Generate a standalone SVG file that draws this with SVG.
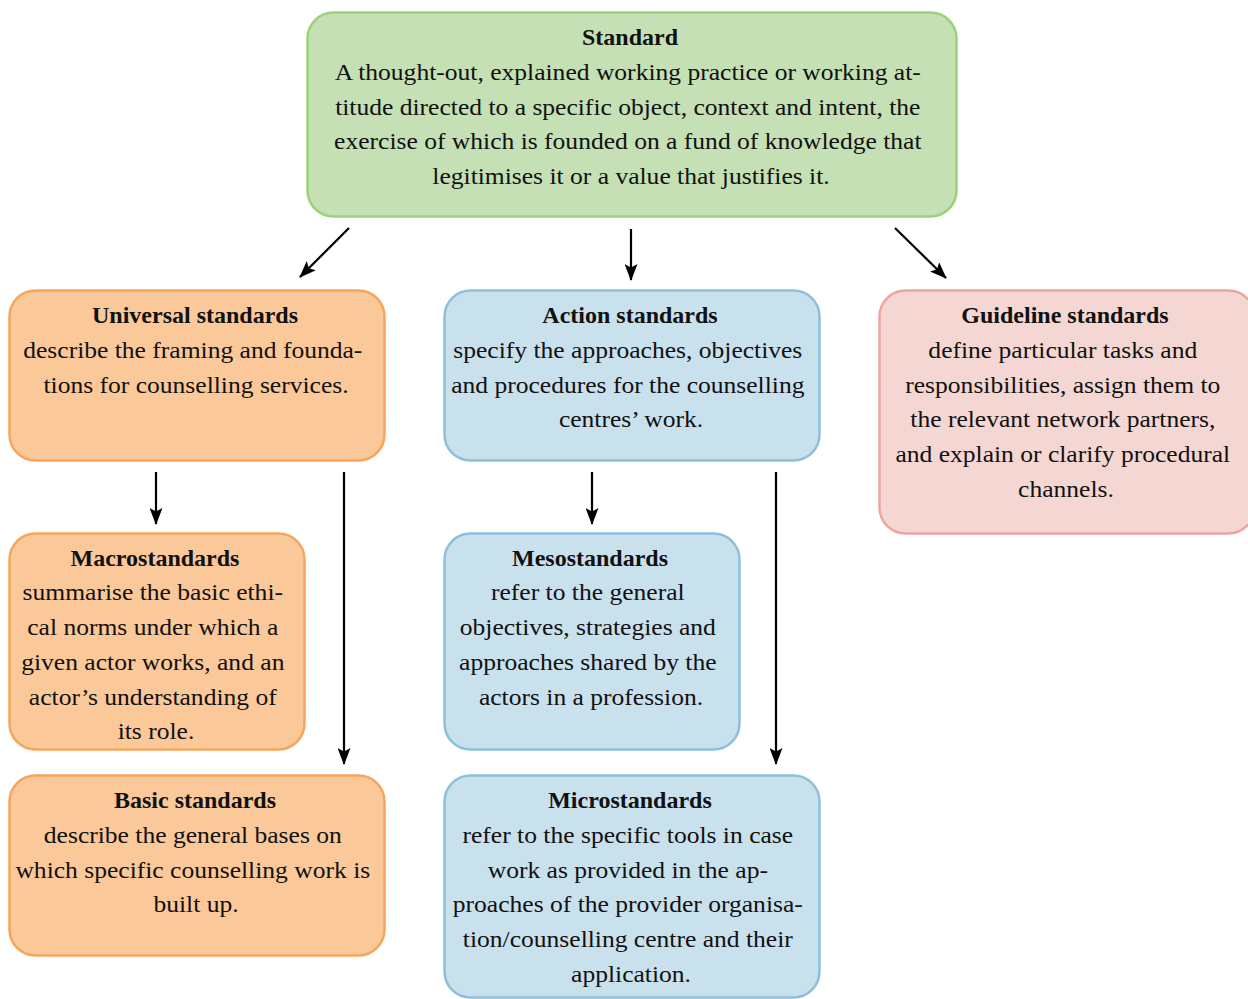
<svg xmlns="http://www.w3.org/2000/svg" width="1248" height="999" viewBox="0 0 1248 999">
<defs>
<style>
.box{stroke-width:2.5}
.g{fill:#c5e0b4;stroke:#9bd27a}
.o{fill:#fbc899;stroke:#f5a55c}
.b{fill:#c9e0ed;stroke:#8dc0dc}
.p{fill:#f4d6d2;stroke:#eca5a0}
.t{font-family:"Liberation Serif","Times New Roman",serif;font-size:24px;fill:#111;text-anchor:middle}
.tb{font-weight:bold}
.c{stroke:#000;stroke-width:2.2;fill:none}
</style>
<marker id="ah" viewBox="0 0 17 13" refX="16" refY="6.5" markerWidth="17" markerHeight="13" markerUnits="userSpaceOnUse" orient="auto">
<path d="M0,0 L17,6.5 L0,13 L3.5,6.5 Z" fill="#000"/>
</marker>
</defs>
<rect width="1248" height="999" fill="#fff"/>

<g id="connectors">
<line class="c" x1="349" y1="228" x2="300" y2="277" marker-end="url(#ah)"/>
<line class="c" x1="631" y1="229" x2="631" y2="280" marker-end="url(#ah)"/>
<line class="c" x1="895" y1="228" x2="946" y2="278" marker-end="url(#ah)"/>
<line class="c" x1="156" y1="472" x2="156" y2="524" marker-end="url(#ah)"/>
<line class="c" x1="344" y1="472" x2="344" y2="764" marker-end="url(#ah)"/>
<line class="c" x1="592" y1="472" x2="592" y2="524" marker-end="url(#ah)"/>
<line class="c" x1="776" y1="472" x2="776" y2="764" marker-end="url(#ah)"/>
</g>

<g id="standard">
<rect class="box g" x="307.5" y="12.5" width="649" height="204" rx="26"/>
<text class="t tb" x="630" y="45">Standard</text>
<g transform="translate(631 0) scale(1.065 1)"><text class="t">
<tspan x="0" y="80">A thought-out, explained working practice or working at-</tspan>
<tspan x="0" y="114.7">titude directed to a specific object, context and intent, the</tspan>
<tspan x="0" y="149.4">exercise of which is founded on a fund of knowledge that</tspan>
<tspan x="0" y="184">legitimises it or a value that justifies it.</tspan>
</text></g>
</g>

<g id="universal">
<rect class="box o" x="9.5" y="290.5" width="375" height="170" rx="26"/>
<text class="t tb" x="195" y="323">Universal standards</text>
<g transform="translate(196 0) scale(1.065 1)"><text class="t">
<tspan x="0" y="358">describe the framing and founda-</tspan>
<tspan x="0" y="392.7">tions for counselling services.</tspan>
</text></g>
</g>

<g id="action">
<rect class="box b" x="444.5" y="290.5" width="375" height="170" rx="26"/>
<text class="t tb" x="630" y="323">Action standards</text>
<g transform="translate(631 0) scale(1.065 1)"><text class="t">
<tspan x="0" y="358">specify the approaches, objectives</tspan>
<tspan x="0" y="392.7">and procedures for the counselling</tspan>
<tspan x="0" y="427.4">centres’ work.</tspan>
</text></g>
</g>

<g id="guideline">
<rect class="box p" x="879.5" y="290.5" width="375" height="243" rx="26"/>
<text class="t tb" x="1065" y="323">Guideline standards</text>
<g transform="translate(1066 0) scale(1.065 1)"><text class="t">
<tspan x="0" y="358">define particular tasks and</tspan>
<tspan x="0" y="392.7">responsibilities, assign them to</tspan>
<tspan x="0" y="427.4">the relevant network partners,</tspan>
<tspan x="0" y="462">and explain or clarify procedural</tspan>
<tspan x="0" y="496.7">channels.</tspan>
</text></g>
</g>

<g id="macro">
<rect class="box o" x="9.5" y="533.5" width="295" height="216" rx="26"/>
<text class="t tb" x="155" y="566">Macrostandards</text>
<g transform="translate(156 0) scale(1.065 1)"><text class="t">
<tspan x="0" y="600.5">summarise the basic ethi-</tspan>
<tspan x="0" y="635.2">cal norms under which a</tspan>
<tspan x="0" y="670">given actor works, and an</tspan>
<tspan x="0" y="704.6">actor’s understanding of</tspan>
<tspan x="0" y="739.3">its role.</tspan>
</text></g>
</g>

<g id="meso">
<rect class="box b" x="444.5" y="533.5" width="295" height="216" rx="26"/>
<text class="t tb" x="590" y="566">Mesostandards</text>
<g transform="translate(591 0) scale(1.065 1)"><text class="t">
<tspan x="0" y="600.5">refer to the general</tspan>
<tspan x="0" y="635.2">objectives, strategies and</tspan>
<tspan x="0" y="670">approaches shared by the</tspan>
<tspan x="0" y="704.6">actors in a profession.</tspan>
</text></g>
</g>

<g id="basic">
<rect class="box o" x="9.5" y="775.5" width="375" height="180" rx="26"/>
<text class="t tb" x="195" y="808">Basic standards</text>
<g transform="translate(196 0) scale(1.065 1)"><text class="t">
<tspan x="0" y="843">describe the general bases on</tspan>
<tspan x="0" y="877.7">which specific counselling work is</tspan>
<tspan x="0" y="912.4">built up.</tspan>
</text></g>
</g>

<g id="micro">
<rect class="box b" x="444.5" y="775.5" width="375" height="222" rx="26"/>
<text class="t tb" x="630" y="808">Microstandards</text>
<g transform="translate(631 0) scale(1.065 1)"><text class="t">
<tspan x="0" y="843">refer to the specific tools in case</tspan>
<tspan x="0" y="877.7">work as provided in the ap-</tspan>
<tspan x="0" y="912.4">proaches of the provider organisa-</tspan>
<tspan x="0" y="947">tion/counselling centre and their</tspan>
<tspan x="0" y="981.7">application.</tspan>
</text></g>
</g>
</svg>
